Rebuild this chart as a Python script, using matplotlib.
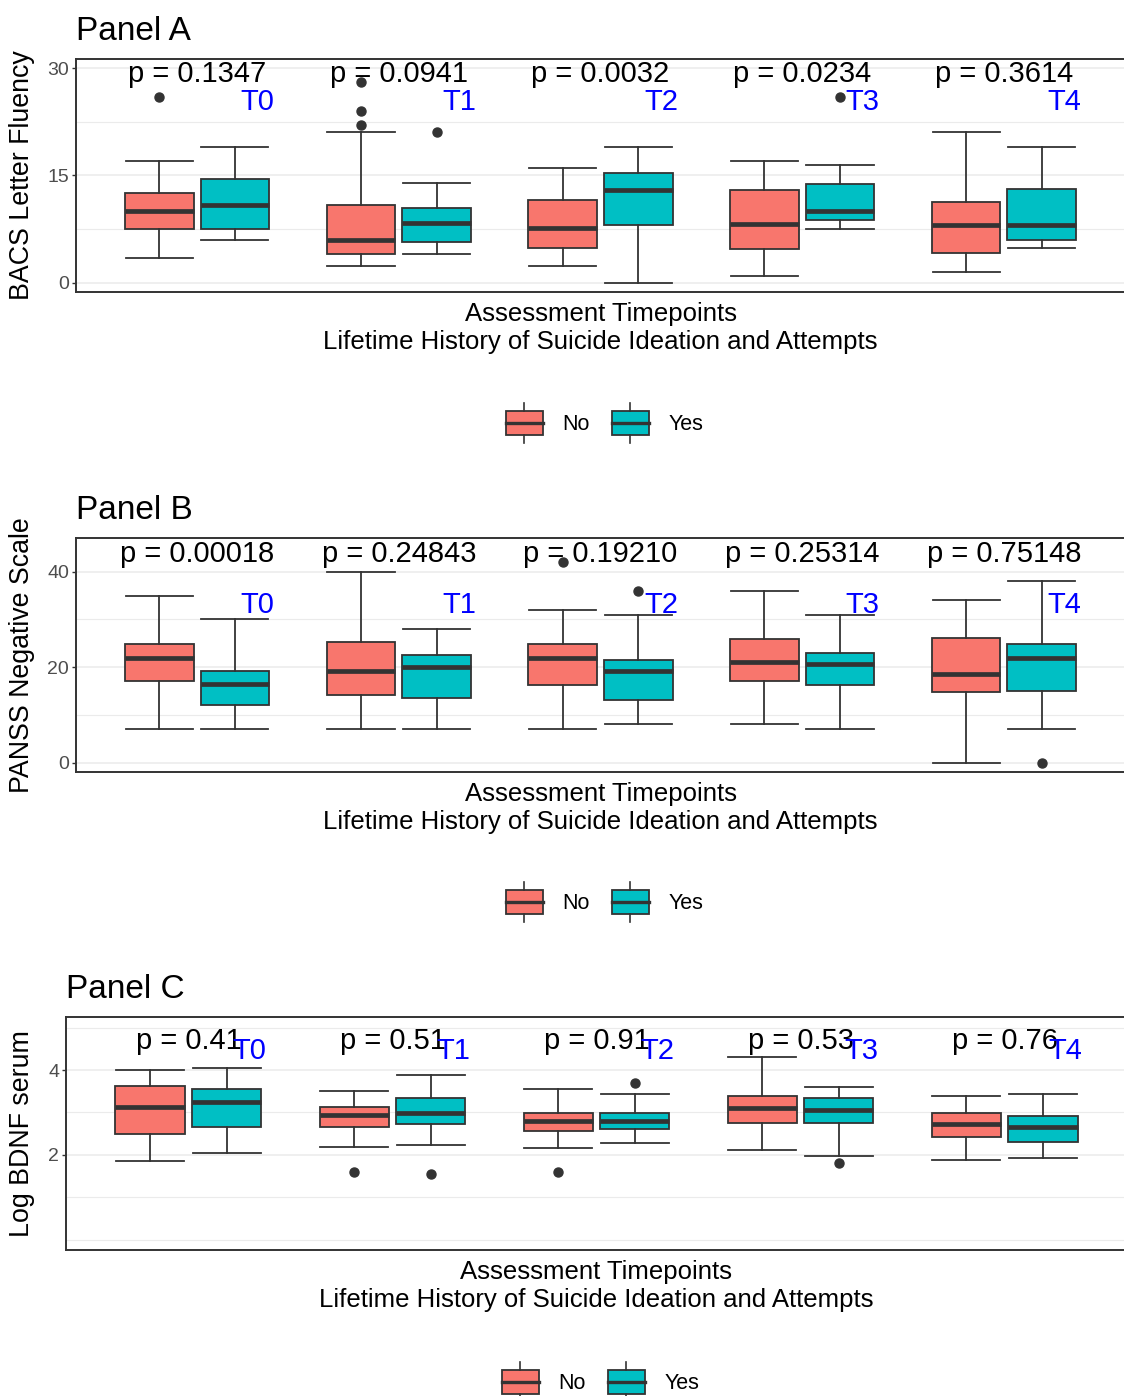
import matplotlib
matplotlib.use("Agg")
import matplotlib.pyplot as plt
from matplotlib.patches import Patch, Rectangle
from matplotlib.lines import Line2D
from matplotlib.legend_handler import HandlerBase

plt.rcParams['font.family'] = ['Liberation Sans', 'DejaVu Sans']

# --- data ---
timepoints = ["T0", "T1", "T2", "T3", "T4"]
groups = ["No", "Yes"]
group_colors = ["#F8766D", "#00BFC4"]

# box summaries per timepoint: (whisker low, q1, median, q3, whisker high)
bacs_no = [(3.5, 7.5, 10.0, 12.6, 17.0), (2.4, 4.0, 6.0, 10.9, 21.0), (2.4, 4.8, 7.7, 11.6, 16.0),
           (1.0, 4.7, 8.2, 12.9, 17.0), (1.5, 4.2, 8.0, 11.3, 21.0)]
bacs_yes = [(6.0, 7.5, 10.9, 14.5, 19.0), (4.0, 5.7, 8.4, 10.4, 14.0), (0.0, 8.0, 13.0, 15.3, 19.0),
            (7.5, 8.7, 10.0, 13.8, 16.5), (4.8, 6.0, 8.0, 13.1, 19.0)]
bacs_no_out = [[26], [28, 24, 22], [], [], []]
bacs_yes_out = [[], [21], [], [26], []]
bacs_p = ["0.1347", "0.0941", "0.0032", "0.0234", "0.3614"]

panss_no = [(7, 17.2, 21.9, 24.9, 35), (7, 14.2, 19.2, 25.2, 40), (7, 16.2, 22.0, 24.9, 32),
            (8, 17.2, 21.0, 25.8, 36), (0, 14.9, 18.6, 26.2, 34)]
panss_yes = [(7, 12.1, 16.5, 19.1, 30), (7, 13.5, 20.0, 22.5, 28), (8, 13.1, 19.2, 21.5, 31),
             (7, 16.2, 20.6, 22.9, 31), (7, 15.1, 22.0, 24.9, 38)]
panss_no_out = [[], [], [42], [], []]
panss_yes_out = [[], [], [36], [], [0]]
panss_p = ["0.00018", "0.24843", "0.19210", "0.25314", "0.75148"]

bdnf_no = [(1.86, 2.49, 3.14, 3.62, 4.00), (2.19, 2.65, 2.95, 3.13, 3.51), (2.16, 2.56, 2.80, 2.98, 3.55),
           (2.12, 2.76, 3.10, 3.40, 4.31), (1.89, 2.42, 2.72, 2.98, 3.40)]
bdnf_yes = [(2.05, 2.65, 3.25, 3.55, 4.04), (2.24, 2.72, 2.99, 3.33, 3.88), (2.27, 2.60, 2.80, 2.98, 3.44),
            (1.97, 2.76, 3.07, 3.33, 3.59), (1.93, 2.31, 2.65, 2.91, 3.44)]
bdnf_no_out = [[], [1.59], [1.59], [], []]
bdnf_yes_out = [[], [1.55], [3.70], [1.81], []]
bdnf_p = ["0.41", "0.51", "0.91", "0.53", "0.76"]

# --- layout ---
W, H = 1124, 1396
DARK = "#333333"
BOX_W = 0.34
DODGE = 0.1875

panels = [
    dict(title="Panel A", ylabel="BACS Letter Fluency", no=bacs_no, yes=bacs_yes,
         no_out=bacs_no_out, yes_out=bacs_yes_out, pvals=bacs_p,
         px=(76, 1125, 59, 292), ylim=(-1.3, 31.27), labeled=[0, 15, 30],
         minor=[7.5, 22.5], p_y=28.1, t_y=24.1, legend_y=423),
    dict(title="Panel B", ylabel="PANSS Negative Scale", no=panss_no, yes=panss_yes,
         no_out=panss_no_out, yes_out=panss_yes_out, pvals=panss_p,
         px=(76, 1125, 538, 772), ylim=(-1.95, 47.05), labeled=[0, 20, 40],
         minor=[10, 30], p_y=42.1, t_y=31.3, legend_y=902),
    dict(title="Panel C", ylabel="Log BDNF serum", no=bdnf_no, yes=bdnf_yes,
         no_out=bdnf_no_out, yes_out=bdnf_yes_out, pvals=bdnf_p,
         px=(66, 1127, 1017, 1250), ylim=(-0.24, 5.25), labeled=[2, 4],
         minor=[0, 1, 3, 5], p_y=4.49, t_y=4.25, legend_y=1382),
]


class BoxKey(HandlerBase):
    # legend key drawn like a small boxplot glyph
    def create_artists(self, legend, orig_handle, xdescent, ydescent, width, height, fontsize, trans):
        x0, y0 = -xdescent, -ydescent
        fc = orig_handle.get_facecolor()
        box = Rectangle((x0, y0 + 0.18 * height), width, 0.64 * height, facecolor=fc,
                        edgecolor=DARK, lw=1.3, transform=trans)
        med = Line2D([x0, x0 + width], [y0 + 0.5 * height] * 2, color=DARK, lw=2.4, transform=trans)
        top = Line2D([x0 + width / 2] * 2, [y0 + 0.82 * height, y0 + 1.03 * height], color=DARK, lw=1.2,
                     transform=trans)
        bot = Line2D([x0 + width / 2] * 2, [y0 - 0.03 * height, y0 + 0.18 * height], color=DARK, lw=1.2,
                     transform=trans)
        return [box, med, top, bot]


def to_stats(summary, outliers):
    stats = []
    for (lo, q1, med, q3, hi), out in zip(summary, outliers):
        stats.append(dict(whislo=lo, q1=q1, med=med, q3=q3, whishi=hi, fliers=out))
    return stats


fig = plt.figure(figsize=(W / 100, H / 100), dpi=100)

for pn in panels:
    left, right, top, bottom = pn["px"]
    ax = fig.add_axes([left / W, 1 - bottom / H, (right - left) / W, (bottom - top) / H])
    xs = list(range(len(timepoints)))

    for gi, (summ, outs) in enumerate([(pn["no"], pn["no_out"]), (pn["yes"], pn["yes_out"])]):
        offset = -DODGE if gi == 0 else DODGE
        ax.bxp(to_stats(summ, outs), positions=[x + offset for x in xs], widths=BOX_W,
               capwidths=BOX_W * 0.98, patch_artist=True, manage_ticks=False, zorder=3,
               boxprops=dict(facecolor=group_colors[gi], edgecolor=DARK, linewidth=1.3),
               medianprops=dict(color=DARK, linewidth=3.4),
               whiskerprops=dict(color=DARK, linewidth=1.3),
               capprops=dict(color=DARK, linewidth=1.3),
               flierprops=dict(marker='o', markerfacecolor=DARK, markeredgecolor=DARK, markersize=6.5))

    for x, tp, pv in zip(xs, timepoints, pn["pvals"]):
        ax.text(x, pn["p_y"], "p = " + pv, ha="center", va="baseline", fontsize=21, color="black", zorder=4)
        ax.text(x + 0.3, pn["t_y"], tp, ha="center", va="baseline", fontsize=21, color="#0000FF", zorder=4)

    ax.set_xlim(-0.6, len(timepoints) - 0.4)
    ax.set_ylim(*pn["ylim"])
    ax.set_xticks([])
    ax.set_yticks(pn["labeled"])
    ax.set_yticklabels([str(v) for v in pn["labeled"]])
    ax.set_yticks(pn["minor"], minor=True)
    ax.grid(True, axis="y", which="major", color="#EBEBEB", linewidth=1.1)
    ax.grid(True, axis="y", which="minor", color="#EBEBEB", linewidth=0.8)
    ax.set_axisbelow(True)
    ax.tick_params(axis="y", which="major", length=3, width=1, color=DARK, labelcolor="#4D4D4D",
                   labelsize=14, pad=2)
    ax.tick_params(axis="y", which="minor", length=0)
    for sp in ax.spines.values():
        sp.set_color(DARK)
        sp.set_linewidth(1.4)

    ax.set_title(pn["title"], loc="left", fontsize=24, pad=14)
    ax.set_xlabel("Assessment Timepoints\nLifetime History of Suicide Ideation and Attempts",
                  fontsize=18.5, linespacing=1.2, labelpad=7)
    ax.set_ylabel(pn["ylabel"], fontsize=19.3)
    ax.yaxis.set_label_coords((35 - left) / (right - left), 0.5)

    handles = [Patch(facecolor=c, label=g) for c, g in zip(group_colors, groups)]
    cx = (left + right) / 2 + 4
    fig.legend(handles=handles, handler_map={Patch: BoxKey()}, ncol=2, loc="center",
               bbox_to_anchor=(cx / W, 1 - pn["legend_y"] / H), frameon=False, fontsize=15.5,
               handlelength=1.75, handleheight=2.27, handletextpad=0.9, columnspacing=1.0)

fig.savefig("out.png", dpi=100)
